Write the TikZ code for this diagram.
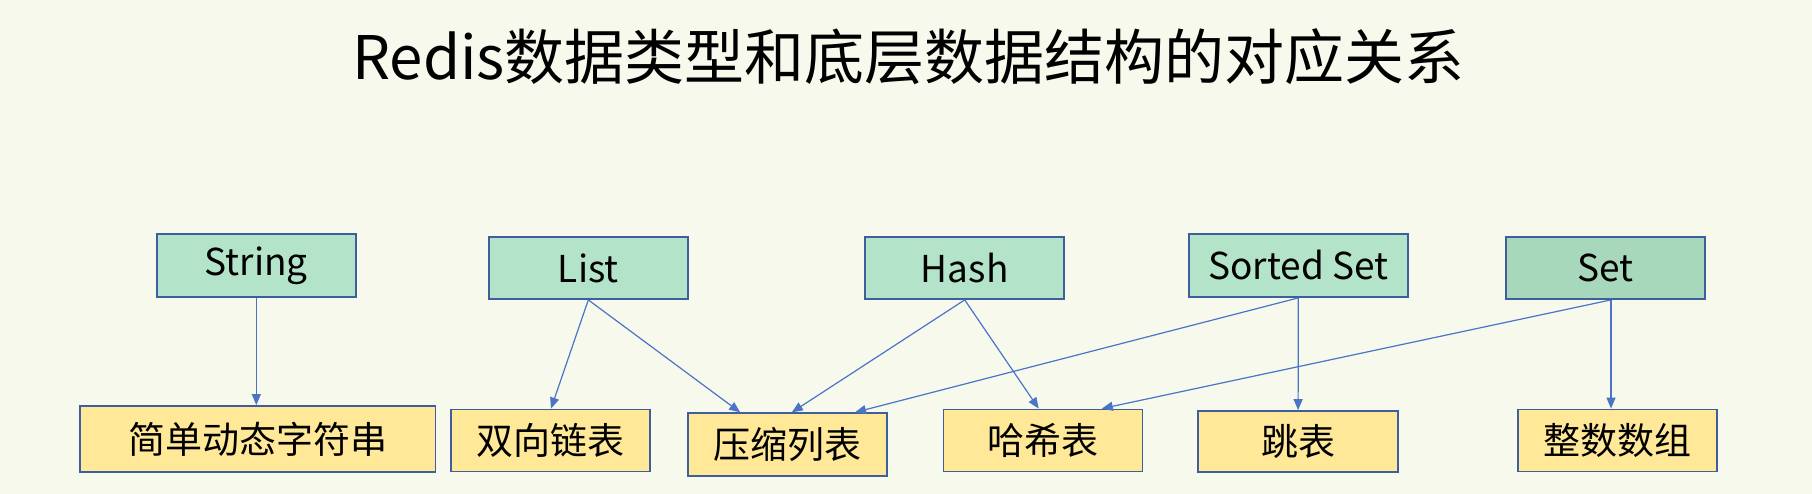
\documentclass[tikz,border=0pt]{standalone}
\usepackage{fontspec}
\setmainfont{Noto Sans CJK SC}
\usetikzlibrary{arrows.meta}
\definecolor{bgc}{HTML}{F7F9ED}
\definecolor{greenbox}{HTML}{B3E3C8}
\definecolor{greenbox2}{HTML}{A8D8BC}
\definecolor{yellowbox}{HTML}{FFE897}
\definecolor{edgec}{HTML}{3E5E9E}
\definecolor{arrowc}{HTML}{4A74C6}
\tikzset{
  typebox/.style={draw=edgec, line width=1.8pt, fill=greenbox, inner sep=0pt, font=\fontsize{37}{42}\selectfont},
  implbox/.style={draw=edgec, line width=1.8pt, fill=yellowbox, inner sep=0pt, font=\fontsize{37}{42}\selectfont},
  link/.style={draw=arrowc, line width=1.2pt, -{Triangle[length=11pt,width=9pt]}}
}
\begin{document}
\begin{tikzpicture}[x=1pt,y=-1pt]
\fill[bgc] (0,0) rectangle (1812,494);
\useasboundingbox (0,0) rectangle (1812,494);
\node[font=\fontsize{60}{66}\selectfont, anchor=base] (title) at (908.6,80) {Redis数据类型和底层数据结构的对应关系};

\node[typebox, minimum width=199pt, minimum height=63pt] (str) at (256.3,265.5) {String};
\node[typebox, minimum width=199pt, minimum height=62pt] (lst) at (588.3,268) {List};
\node[typebox, minimum width=199pt, minimum height=62pt] (hsh) at (964.7,268) {Hash};
\node[typebox, minimum width=218.6pt, minimum height=63pt] (zs) at (1298.3,265.5) {Sorted Set};
\node[typebox, fill=greenbox2, minimum width=199.4pt, minimum height=62pt] (set) at (1605.3,268) {Set};

\node[implbox, minimum width=355.4pt, minimum height=66pt] (sds) at (257.7,439) {简单动态字符串};
\node[implbox, minimum width=199pt, minimum height=62pt] (dl) at (550.2,440.5) {双向链表};
\node[implbox, minimum width=198.8pt, minimum height=62.5pt] (zip) at (787.4,444.5) {压缩列表};
\node[implbox, minimum width=199pt, minimum height=62pt] (ht) at (1042.9,440.5) {哈希表};
\node[implbox, minimum width=199.6pt, minimum height=61pt] (sk) at (1298.1,441.5) {跳表};
\node[implbox, minimum width=199.5pt, minimum height=62pt] (is) at (1617.5,440.5) {整数数组};

\draw[link] (str.south) -- ([xshift=-1.4pt]sds.north);
\draw[link] (lst.south) -- ([xshift=0.8pt]dl.north);
\draw[link] (lst.south) -- ([xshift=-47.2pt]zip.north);
\draw[link] (hsh.south) -- ([xshift=4.4pt]zip.north);
\draw[link] (hsh.south) -- ([xshift=-4.2pt]ht.north);
\draw[link] (zs.south) -- ([xshift=67.6pt]zip.north);
\draw[link] (zs.south) -- (sk.north);
\draw[link] ([xshift=5.7pt]set.south) -- ([xshift=58.9pt]ht.north);
\draw[link] ([xshift=5.7pt]set.south) -- ([xshift=-6.5pt]is.north);
\end{tikzpicture}
\end{document}
